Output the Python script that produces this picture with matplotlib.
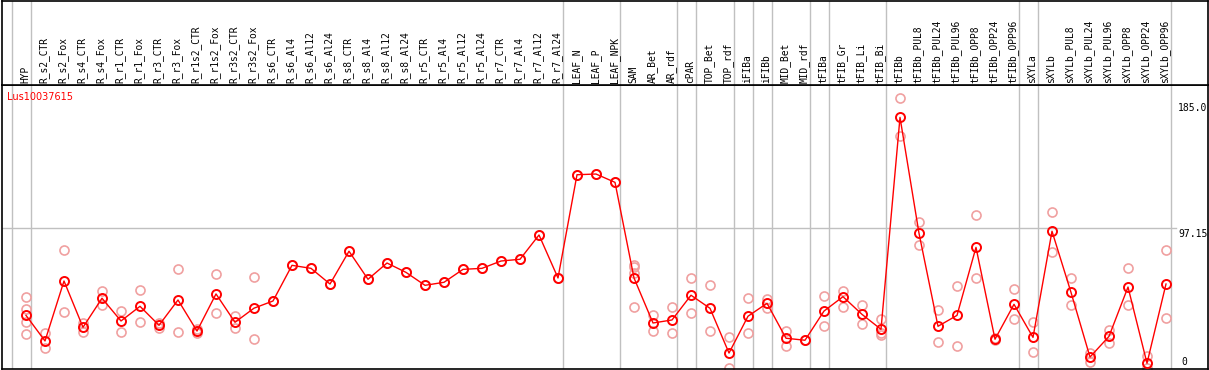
import matplotlib
matplotlib.use("Agg")
import matplotlib.pyplot as plt

categories = ["HYP", "R_s2_CTR", "R_s2_Fox", "R_s4_CTR", "R_s4_Fox", "R_r1_CTR", "R_r1_Fox",
              "R_r3_CTR", "R_r3_Fox", "R_r1s2_CTR", "R_r1s2_Fox", "R_r3s2_CTR", "R_r3s2_Fox",
              "R_s6_CTR", "R_s6_Al4", "R_s6_Al12", "R_s6_Al24", "R_s8_CTR", "R_s8_Al4",
              "R_s8_Al12", "R_s8_Al24", "R_r5_CTR", "R_r5_Al4", "R_r5_Al12", "R_r5_Al24",
              "R_r7_CTR", "R_r7_Al4", "R_r7_Al12", "R_r7_Al24", "LEAF_N", "LEAF_P", "LEAF_NPK",
              "SAM", "AR_Bet", "AR_rdf", "cPAR", "TOP_Bet", "TOP_rdf", "iFIBa", "iFIBb",
              "MID_Bet", "MID_rdf", "tFIBa", "tFIB_Gr", "tFIB_Li", "tFIB_Bi", "tFIBb",
              "tFIBb_PUL8", "tFIBb_PUL24", "tFIBb_PUL96", "tFIBb_OPP8", "tFIBb_OPP24",
              "tFIBb_OPP96", "sXYLa", "sXYLb", "sXYLb_PUL8", "sXYLb_PUL24", "sXYLb_PUL96",
              "sXYLb_OPP8", "sXYLb_OPP24", "sXYLb_OPP96"]

means = [36.6, 18.8, 60.5, 28.3, 48.5, 32.7, 42.9, 29.7, 47.3, 25.7, 51.5, 31.8, 41.6,
         46.6, 71.4, 69.3, 58.4, 81.2, 61.7, 73.0, 66.5, 57.5, 59.6, 68.6, 69.3,
         74.4, 75.6, 92.5, 62.6, 134.4, 134.9, 129.1,
         62.6, 31.3, 33.4, 50.6, 41.5, 10.4, 36.0, 45.0, 20.7, 19.3, 39.6, 49.6, 37.3, 26.9,
         174.3, 93.7, 29.0, 36.6, 83.9, 20.0, 44.3, 21.3, 95.1, 52.6, 7.6, 22.0, 56.3, 3.3, 58.4]

replicates = [
    [49.2, 41.0, 31.8, 23.4], [24.1, 13.7], [81.8, 38.7], [31.5, 24.8], [53.5, 43.6],
    [39.6, 24.8], [54.2, 31.8], [31.5, 28.0], [68.6, 24.8], [27.0, 24.4], [65.2, 38.0],
    [36.0, 27.6], [63.1, 20.2],
    [46.6], [71.4], [69.3], [58.4], [81.2], [61.7], [73.0], [66.5], [57.5], [59.6], [68.6],
    [69.3], [74.4], [75.6], [92.5], [62.6], [134.4], [134.9], [129.1],
    [71.6, 70.4, 65.9, 42.2], [36.6, 25.5], [42.2, 24.1], [62.4, 38.0], [57.5, 25.5],
    [21.6, 0.0], [48.5, 24.1], [48.0, 41.7], [25.7, 15.5], [19.3], [49.9, 29.0],
    [53.8, 42.6], [43.8, 30.4], [33.9, 24.1, 22.9],
    [187.6, 161.5], [101.3, 85.5], [40.1, 17.9], [56.8, 15.5], [106.2, 62.4], [19.4, 20.6],
    [54.7, 33.9], [32.0, 10.9], [108.3, 80.9], [62.4, 43.6], [10.6, 4.4], [26.6, 17.2],
    [69.3, 43.6], [8.3, 0.0], [81.8, 34.6]]

group_ends = [-1, 0, 28, 31, 34, 35, 37, 38, 39, 41, 42, 45, 52, 53, 60]
gene = "Lus10037615"
axis_max_label = "185.0"
axis_mid = 97.15

W, H = 1209, 370
fig = plt.figure(figsize=(W / 100, H / 100), dpi=100)

px0, px1 = 1.5, 1207.5
x_of = lambda p: (p - 26) / 19.0
xlim = (x_of(px0), x_of(px1))
y_top, y_hdr, y_bot = 0, 85, 369
scale = 1.438  # px per unit
ylim = ((368 - y_bot) / scale, (368 - y_hdr) / scale)

ax = fig.add_axes([px0 / W, (H - y_bot) / H, (px1 - px0) / W, (y_bot - y_hdr) / H])
hx = fig.add_axes([px0 / W, (H - y_hdr) / H, (px1 - px0) / W, (y_hdr - 0.5) / H])

grey = "#c0c0c0"
for a in (ax, hx):
    a.set_xlim(*xlim)
    a.set_xticks([]); a.set_yticks([])
    for s in a.spines.values():
        s.set_linewidth(1.2)
        s.set_color("black")
    for g in group_ends:
        a.axvline(g + 0.24, color=grey, lw=1.0, zorder=0)
ax.set_ylim(*ylim)
hx.set_ylim(0, 1)

xs = list(range(len(categories)))
# midline
ax.plot([xlim[0], x_of(1176)], [axis_mid, axis_mid], color=grey, lw=1.0, zorder=0)

rx, ry = [], []
for i, reps in enumerate(replicates):
    for r in reps:
        rx.append(i); ry.append(r)
ax.plot(rx, ry, linestyle="none", marker="o", ms=6.5, mfc="none", mec="#f0a0a0",
        mew=1.2, zorder=2, clip_on=True)
ax.plot(xs, means, color="#ff0000", lw=1.0, marker="o", ms=6.5, mfc="none",
        mec="#ff0000", mew=1.4, zorder=3)

for i, c in enumerate(categories):
    hx.text(i - 0.05, 2.0 / 85, c, rotation=90, ha="center", va="bottom",
            fontsize=6.9, family="DejaVu Sans Mono", color="black")

ax.text(5 / (px1 - px0), 1 - (97 - y_hdr) / (y_bot - y_hdr), gene, transform=ax.transAxes,
        color="#ff0000", fontsize=7, family="DejaVu Sans", va="center", ha="left")

lab_x = x_of(1178)
ax.text(lab_x, 185.0 - 1.5 / scale, axis_max_label, fontsize=7.0, family="DejaVu Sans Mono",
        va="top", ha="left", clip_on=True)
ax.text(lab_x, axis_mid - 1.0 / scale, "97.15", fontsize=7.0, family="DejaVu Sans Mono",
        va="top", ha="left", clip_on=True)
ax.text(x_of(1181), (368 - 361.7) / scale, "0", fontsize=7.0, family="DejaVu Sans Mono",
        va="center", ha="left")

fig.savefig("out.png", dpi=100)
